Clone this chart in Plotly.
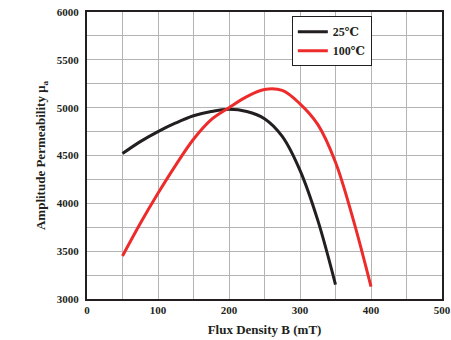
import plotly.graph_objects as go

# Flux density B (mT) and amplitude permeability at two temperatures
b_25 = [50, 75, 100, 125, 150, 175, 200, 225, 250, 275, 300, 325, 350]
mu_25 = [4520, 4645, 4750, 4840, 4915, 4960, 4983, 4960, 4885, 4700, 4345, 3824, 3150]

b_100 = [50, 75, 100, 125, 150, 175, 200, 225, 250, 275, 300, 325, 350, 375, 400]
mu_100 = [3450, 3790, 4105, 4400, 4670, 4875, 5000, 5115, 5190, 5180, 5040, 4825, 4430, 3830, 3130]

x_ticks = [0, 100, 200, 300, 400, 500]
y_ticks = [3000, 3500, 4000, 4500, 5000, 5500, 6000]

font_family = "Times New Roman, Liberation Serif, DejaVu Serif, serif"
ink = "#231f20"
grid_color = "#b4b4b4"

fig = go.Figure()
fig.add_trace(go.Scatter(
    x=b_25, y=mu_25, mode="lines", name="<b>25℃</b>",
    line=dict(color=ink, width=3, shape="spline", smoothing=1.0),
))
fig.add_trace(go.Scatter(
    x=b_100, y=mu_100, mode="lines", name="<b>100℃</b>",
    line=dict(color="#ee2b2b", width=3, shape="spline", smoothing=1.0),
))

axis_common = dict(
    showline=True, linecolor=ink, linewidth=2, mirror=True,
    showgrid=True, gridcolor=grid_color, gridwidth=1,
    zeroline=False, ticks="", automargin=False,
    tickfont=dict(family=font_family, size=11, color=ink),
)

fig.update_xaxes(
    range=[0, 500], tickvals=x_ticks,
    ticktext=[f"<b>{v}</b>" for v in x_ticks],
    minor=dict(dtick=50, showgrid=True, gridcolor=grid_color, gridwidth=1),
    title=dict(text="<b>Flux Density B (mT)</b>",
               font=dict(family=font_family, size=13, color=ink),
               standoff=10),
    **axis_common,
)
fig.update_yaxes(
    range=[3000, 6000], tickvals=y_ticks,
    ticktext=[f"<b>{v}</b>" for v in y_ticks],
    minor=dict(dtick=250, showgrid=True, gridcolor=grid_color, gridwidth=1),
    title=dict(text="<b>Amplitude Permeability μ<sub>a</sub></b>",
               font=dict(family=font_family, size=13, color=ink),
               standoff=8),
    ticklabelstandoff=4,
    **axis_common,
)

fig.update_layout(
    width=451, height=340,
    margin=dict(l=87, r=9, t=12, b=41),
    paper_bgcolor="white", plot_bgcolor="white",
    showlegend=True,
    legend=dict(
        x=0.577, y=0.985, xanchor="left", yanchor="top",
        bgcolor="white", bordercolor=ink, borderwidth=1,
        font=dict(family=font_family, size=12, color=ink),
        itemwidth=30, tracegroupgap=0,
    ),
)

fig.write_html("out.html")
